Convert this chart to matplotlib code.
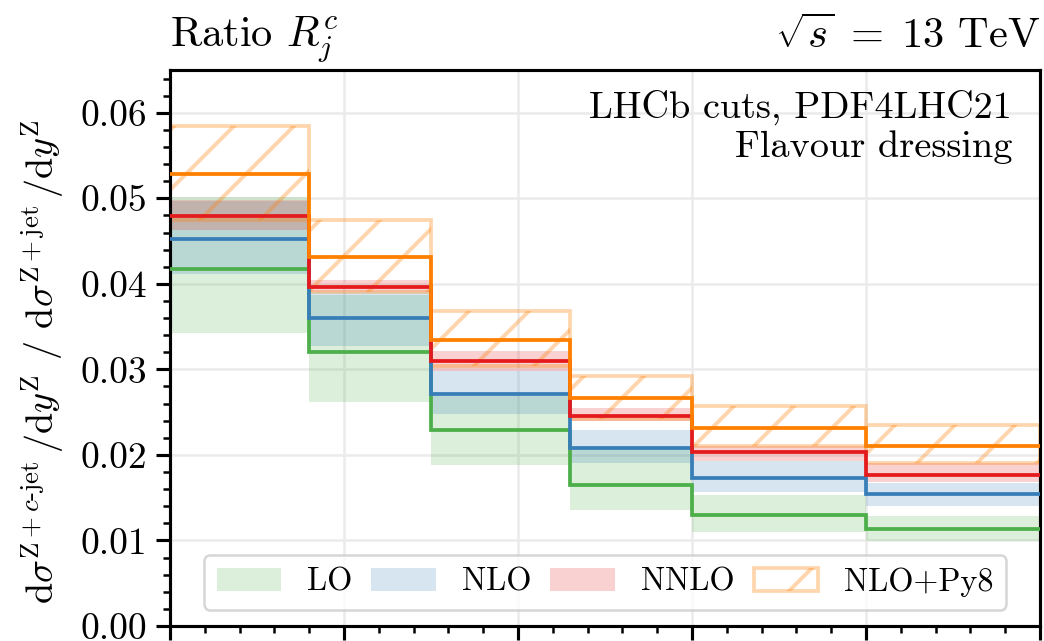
import matplotlib
matplotlib.use("Agg")
import matplotlib.pyplot as plt
from matplotlib.ticker import MultipleLocator

# Bin edges in Z rapidity
edges = [2.0, 2.4, 2.75, 3.15, 3.5, 4.0, 4.5]

# LO
lo_central = [0.0417, 0.0320, 0.0229, 0.0165, 0.0130, 0.0113]
lo_down = [0.0342, 0.0262, 0.0188, 0.0136, 0.0110, 0.0099]
lo_up = [0.0502, 0.0387, 0.0269, 0.0207, 0.0153, 0.0129]

# NLO
nlo_central = [0.0452, 0.0360, 0.0271, 0.0208, 0.0173, 0.0154]
nlo_down = [0.0411, 0.0327, 0.0248, 0.0190, 0.0157, 0.0140]
nlo_up = [0.0497, 0.0391, 0.0298, 0.0229, 0.0193, 0.0167]

# NNLO
nnlo_central = [0.0479, 0.0396, 0.0310, 0.0245, 0.0204, 0.0177]
nnlo_down = [0.0463, 0.0390, 0.0298, 0.0240, 0.0193, 0.0168]
nnlo_up = [0.0498, 0.0404, 0.0322, 0.0255, 0.0211, 0.0190]

# NLO matched to Pythia8
py8_central = [0.0529, 0.0431, 0.0334, 0.0266, 0.0231, 0.0211]
py8_down = [0.0475, 0.0391, 0.0304, 0.0242, 0.0211, 0.0191]
py8_up = [0.0584, 0.0475, 0.0368, 0.0292, 0.0257, 0.0235]

labels = ["LO", "NLO", "NNLO", "NLO+Py8"]

plt.rcParams.update({
    "font.family": "serif",
    "font.serif": ["cmr10"],
    "mathtext.fontset": "cm",
    "axes.formatter.use_mathtext": True,
    "axes.unicode_minus": False,
    "axes.linewidth": 1.25,
    "xtick.major.size": 5.6,
    "xtick.minor.size": 2.8,
    "ytick.major.size": 5.6,
    "ytick.minor.size": 2.8,
    "xtick.major.width": 1.25,
    "xtick.minor.width": 1.0,
    "ytick.major.width": 1.25,
    "ytick.minor.width": 1.0,
    "hatch.linewidth": 1.6,
})

GREEN = "#4daf4a"
BLUE = "#377eb8"
RED = "#e41a1c"
ORANGE = "#ff7f00"

fig = plt.figure(figsize=(5.8, 641 / 180), dpi=180)
ax = fig.add_axes([170 / 1044, 1 - 626 / 641, 870 / 1044, 556 / 641])

ax.grid(True, which="major", color="0.92", lw=1.0, zorder=0)
ax.set_axisbelow(True)

bands = [
    (lo_down, lo_up, GREEN),
    (nlo_down, nlo_up, BLUE),
    (nnlo_down, nnlo_up, RED),
]
handles = []
for (down, up, col), lab in zip(bands, labels[:3]):
    h = ax.stairs(up, edges, baseline=down, fill=True, color=col,
                  alpha=0.2, lw=0, zorder=1, label=lab)
    handles.append(h)

h_py8 = ax.stairs(py8_up, edges, baseline=py8_down, fill=True,
                  facecolor="none", edgecolor=(1.0, 0.498, 0.0, 0.32),
                  hatch="/", lw=1.5, zorder=1.5, label=labels[3])
handles.append(h_py8)

for vals, col in [(lo_central, GREEN), (nlo_central, BLUE),
                  (nnlo_central, RED), (py8_central, ORANGE)]:
    ax.stairs(vals, edges, baseline=None, color=col, lw=1.5, zorder=3)

ax.set_xlim(2.0, 4.5)
ax.set_ylim(0.0, 0.065)
ax.xaxis.set_major_locator(MultipleLocator(0.5))
ax.xaxis.set_minor_locator(MultipleLocator(0.1))
ax.yaxis.set_major_locator(MultipleLocator(0.01))
ax.yaxis.set_minor_locator(MultipleLocator(0.002))
ax.yaxis.set_major_formatter(plt.FormatStrFormatter("%.2f"))
ax.tick_params(axis="x", which="both", labelbottom=False)
ax.tick_params(axis="y", labelsize=15)

ax.set_ylabel(r"$\mathrm{d}\sigma^{\mathrm{Z}+c\text{-jet}}\,/\mathrm{d}y^{\mathrm{Z}}$"
              r" / "
              r"$\mathrm{d}\sigma^{\mathrm{Z+jet}}\,/\mathrm{d}y^{\mathrm{Z}}$",
              fontsize=15.3, labelpad=6)
ax.yaxis.label.set_y(0.475)

ax.set_title(r"Ratio $R_j^c$", loc="left", fontsize=17, pad=9)
ax.set_title(r"$\sqrt{s}\;=\;13$ TeV", loc="right", fontsize=17, pad=9)

ax.text(0.968, 0.965, "LHCb cuts, PDF4LHC21\nFlavour dressing",
        transform=ax.transAxes, ha="right", va="top", fontsize=15.3,
        multialignment="right")

ax.legend(handles=handles, loc="lower center", ncol=4, fontsize=12.9,
          handlelength=2.0, handletextpad=0.8, columnspacing=0.6,
          framealpha=0.8, borderaxespad=0.5)

fig.savefig("out.png", dpi=180)
